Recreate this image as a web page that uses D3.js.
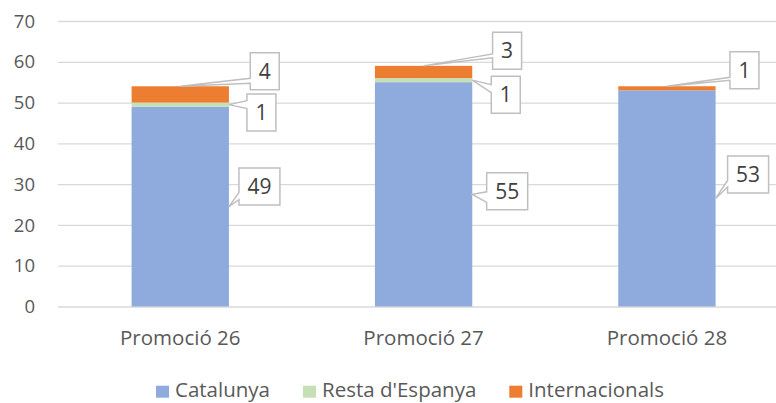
<html>

<head>
  <meta charset="UTF-8">
  <script src="https://d3js.org/d3.v7.min.js"></script>
  <style>
    body { margin: 0; background: white; }
    text { font-family: "Open Sans", sans-serif; fill: #595959; }
    .gridlines line { stroke: #d9d9d9; stroke-width: 1.3; }
    .gridlines .domain { stroke: none; }
  </style>
</head>

<body>
  <svg id="chart" width="776" height="403"></svg>

  <script>
    // data
    const categories = ["Promoció 26", "Promoció 27", "Promoció 28"];
    const seriesNames = ["Catalunya", "Resta d'Espanya", "Internacionals"];
    const catalunya = [49, 55, 53];
    const restaEspanya = [1, 1, 0];
    const internacionals = [4, 3, 1];
    const yTicks = [0, 10, 20, 30, 40, 50, 60, 70];

    const colors = ["#8faadc", "#c5e0b4", "#ed7d31"];

    // callout placement (dragged labels): [dx, dy, wedge top, wedge bottom]
    const calloutLayout = [
      [[10, -20, 6, 13], [14.4, -3, 0.5, 11], [12, -24, 6, 12.5]],
      [[18, 8, -12, -4], [19, 14.5, -10, -2], null],
      [[70, -15, 7, 12], [69, -15, 3, 7], [63, -16, 7, 10]]
    ];

    const svg = d3.select("svg#chart");

    // build stacked table
    const table = categories.map((c, i) => ({
      cat: c,
      "Catalunya": catalunya[i],
      "Resta d'Espanya": restaEspanya[i],
      "Internacionals": internacionals[i]
    }));
    const stacked = d3.stack().keys(seriesNames)(table);

    const xScale = d3.scaleBand().domain(categories).range([58.6, 788.6])
      .paddingInner(0.6).paddingOuter(0.3);
    const yScale = d3.scaleLinear().domain([0, 70]).range([306.5, 21]);

    // gridlines
    svg.append("g").attr("class", "gridlines")
      .attr("transform", "translate(58,0)")
      .call(d3.axisLeft(yScale).tickValues(yTicks).tickFormat("").tickSize(-720));

    // y tick labels
    svg.append("g").selectAll("text.ytick").data(yTicks)
      .join("text").attr("class", "ytick")
      .attr("x", 35)
      .attr("y", d => yScale(d) + 6.6)
      .attr("text-anchor", "end")
      .attr("font-size", "18.5px")
      .text(d => d);

    // bars
    svg.append("g").selectAll("g.series").data(stacked)
      .join("g").attr("class", "series")
      .attr("fill", (d, i) => colors[i])
      .selectAll("rect").data(d => d)
      .join("rect")
      .attr("x", d => xScale(d.data.cat))
      .attr("y", d => yScale(d[1]))
      .attr("width", xScale.bandwidth())
      .attr("height", d => yScale(d[0]) - yScale(d[1]));

    // category labels
    svg.append("g").selectAll("text.cat").data(categories)
      .join("text").attr("class", "cat")
      .attr("x", d => xScale(d) + xScale.bandwidth() / 2)
      .attr("y", 345)
      .attr("text-anchor", "middle")
      .attr("font-size", "20.5px")
      .text(d => d);

    // callout labels
    const callouts = [];
    stacked.forEach((s, si) => {
      s.forEach((d, ci) => {
        const v = d[1] - d[0];
        const lay = calloutLayout[si][ci];
        if (v === 0 || !lay) return;
        let tipX, tipY;
        if (si < 2) {
          tipX = xScale(d.data.cat) + xScale.bandwidth();
          tipY = yScale((d[0] + d[1]) / 2);
        } else {
          tipX = xScale(d.data.cat) + xScale.bandwidth() / 2;
          tipY = yScale(d[1]);
        }
        callouts.push({ v, tipX, tipY, lay });
      });
    });

    const cg = svg.append("g").selectAll("g.callout").data(callouts)
      .join("g").attr("class", "callout");

    cg.append("path")
      .attr("d", d => {
        const w = String(d.v).length > 1 ? 41 : 29;
        const h = 37;
        const left = d.tipX + d.lay[0];
        const cy = d.tipY + d.lay[1];
        const top = cy - h / 2, bottom = cy + h / 2;
        const b1 = cy + d.lay[2], b2 = cy + d.lay[3];
        return `M${left},${top} H${left + w} V${bottom} H${left} V${b2} L${d.tipX},${d.tipY} L${left},${b1} Z`;
      })
      .attr("fill", "white")
      .attr("stroke", "#bfbfbf")
      .attr("stroke-width", 1.5)
      .attr("stroke-linejoin", "miter");

    cg.append("text")
      .attr("x", d => d.tipX + d.lay[0] + (String(d.v).length > 1 ? 41 : 29) / 2)
      .attr("y", d => d.tipY + d.lay[1] + 7.6)
      .attr("text-anchor", "middle")
      .attr("font-size", "21px")
      .style("fill", "#404040")
      .text(d => d.v);

    // legend
    const legend = svg.append("g");
    let lx = 0;
    seriesNames.forEach((name, i) => {
      const item = legend.append("g").attr("transform", `translate(${lx},0)`);
      item.append("rect").attr("x", 0).attr("y", 385.7).attr("width", 13).attr("height", 12)
        .attr("fill", colors[i]);
      const t = item.append("text").attr("x", 19).attr("y", 397.3)
        .attr("font-size", "20.5px").text(name);
      lx += 19 + t.node().getComputedTextLength() + 33;
    });
    const legendWidth = lx - 33;
    legend.attr("transform", `translate(${410 - legendWidth / 2},0)`);
  </script>
</body>

</html>
